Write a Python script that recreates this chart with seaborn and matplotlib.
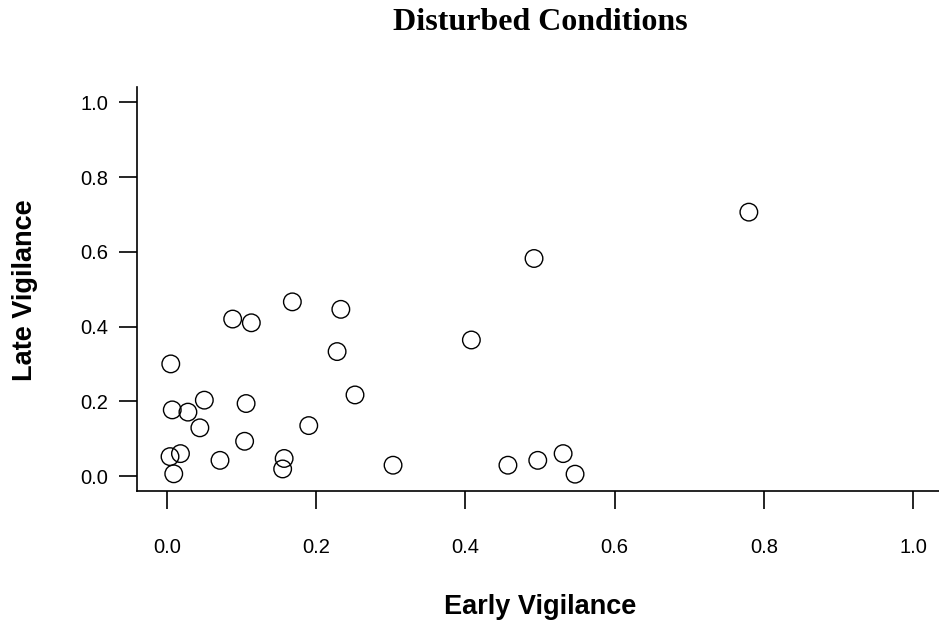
import matplotlib
matplotlib.use("Agg")
import matplotlib.pyplot as plt
import seaborn as sns
import pandas as pd

early = [0.780, 0.492, 0.408, 0.168, 0.233, 0.088, 0.113, 0.228, 0.005, 0.252,
         0.050, 0.106, 0.007, 0.028, 0.044, 0.190, 0.104, 0.018, 0.004, 0.071,
         0.157, 0.155, 0.009, 0.303, 0.457, 0.497, 0.531, 0.547]
late = [0.706, 0.582, 0.364, 0.466, 0.446, 0.420, 0.410, 0.333, 0.300, 0.217,
        0.203, 0.194, 0.177, 0.171, 0.129, 0.135, 0.093, 0.060, 0.052, 0.042,
        0.047, 0.019, 0.006, 0.029, 0.029, 0.042, 0.060, 0.005]
tick_vals = [0.0, 0.2, 0.4, 0.6, 0.8, 1.0]
tick_labels = ["0.0", "0.2", "0.4", "0.6", "0.8", "1.0"]
title = "Disturbed Conditions"
xlabel = "Early Vigilance"
ylabel = "Late Vigilance"

df = pd.DataFrame({"early": early, "late": late})

sns.set_style("ticks")
plt.rcParams["font.family"] = ["Liberation Sans", "DejaVu Sans"]
plt.rcParams["text.color"] = "black"
plt.rcParams["axes.labelcolor"] = "black"

W, H = 939, 629
fig = plt.figure(figsize=(W / 100, H / 100), dpi=100)
left_px, right_px, top_px, bottom_px = 137.2, 942.8, 87.3, 491.0
ax = fig.add_axes([left_px / W, (H - bottom_px) / H,
                   (right_px - left_px) / W, (bottom_px - top_px) / H])

sns.scatterplot(data=df, x="early", y="late", ax=ax, marker="o", s=160,
                facecolor="none", edgecolor="black", linewidth=1.0, zorder=3)

ax.set_xlim(-0.04, 1.04)
ax.set_ylim(-0.04, 1.04)
ax.set_xticks(tick_vals)
ax.set_xticklabels(tick_labels)
ax.set_yticks(tick_vals)
ax.set_yticklabels(tick_labels)
ax.tick_params(axis="both", direction="out", length=13, width=1.2, color="black",
               labelsize=14.5, labelcolor="black")
ax.tick_params(axis="x", pad=21)
ax.tick_params(axis="y", pad=8)

for side in ["top", "right"]:
    ax.spines[side].set_visible(False)
for side in ["left", "bottom"]:
    ax.spines[side].set_color("black")
    ax.spines[side].set_linewidth(1.2)

ax.set_xlabel(xlabel, fontsize=19.5, fontweight="bold", color="black")
ax.set_ylabel(ylabel, fontsize=19.5, fontweight="bold", color="black")
ax_h = bottom_px - top_px
ax_w = right_px - left_px
ax.xaxis.set_label_coords(0.5, (bottom_px - 607) / ax_h)
ax.xaxis.label.set_va("center")
ax.yaxis.set_label_coords((25 - left_px) / ax_w, 0.5 + (bottom_px - 290 - ax_h / 2) / ax_h)
ax.yaxis.label.set_va("center")

fig.text(540 / W, 1 - 22 / H, title, ha="center", va="center", color="black",
         fontsize=23, fontweight="bold", family=["Liberation Serif", "DejaVu Serif"])

fig.savefig("out.png", dpi=100, facecolor="white")
